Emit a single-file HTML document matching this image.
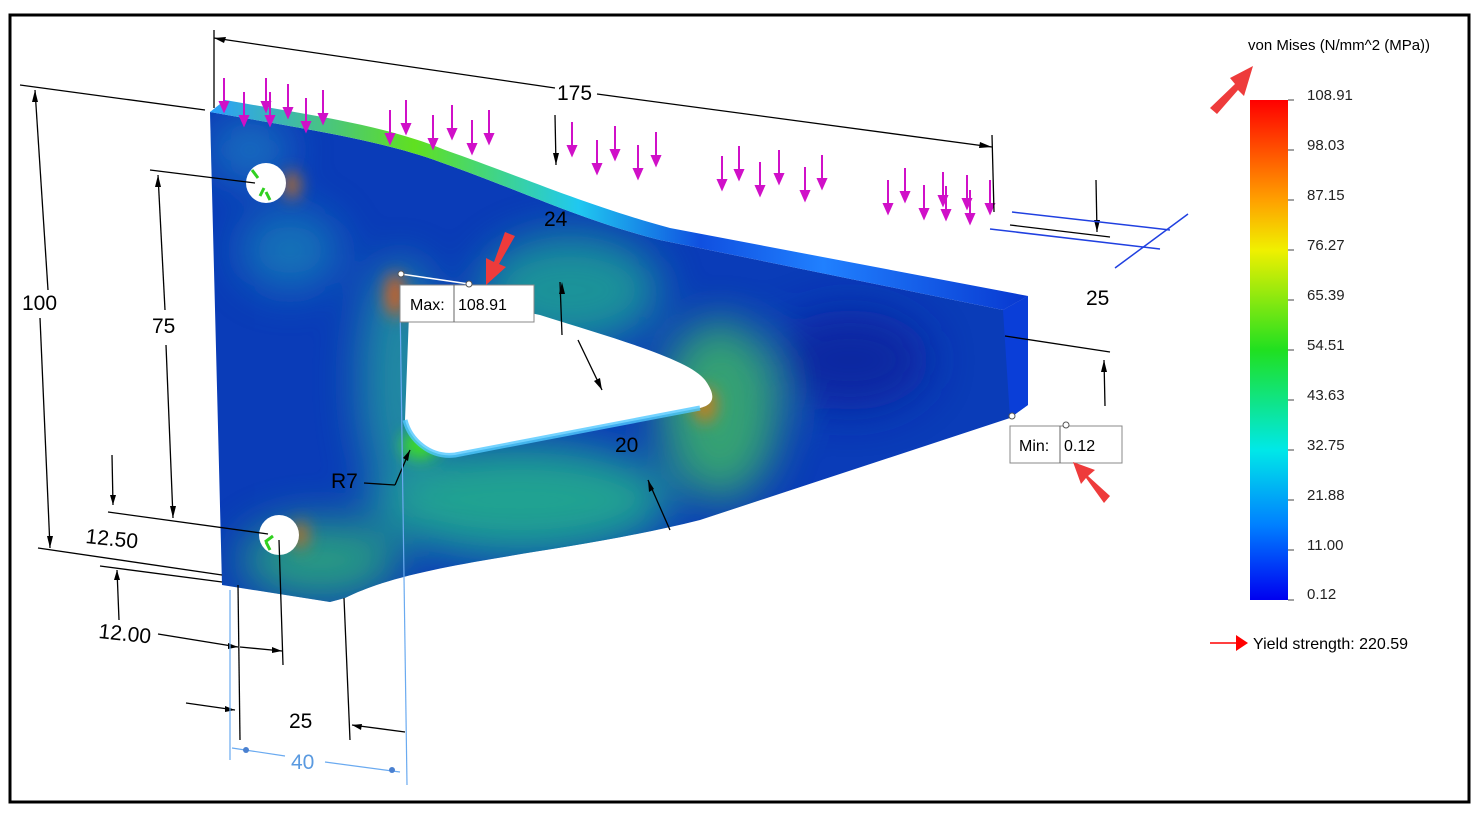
<!DOCTYPE html>
<html><head><meta charset="utf-8"><style>
html,body{margin:0;padding:0;background:#fff;}
svg{display:block;font-family:"Liberation Sans",sans-serif;}
</style></head><body>
<svg width="1478" height="814" viewBox="0 0 1478 814" xmlns="http://www.w3.org/2000/svg">
<defs>
<linearGradient id="cb" x1="0" y1="0" x2="0" y2="1">
<stop offset="0" stop-color="#ff0000"/><stop offset="0.2" stop-color="#ffa000"/><stop offset="0.3" stop-color="#f0f000"/>
<stop offset="0.5" stop-color="#20e020"/><stop offset="0.7" stop-color="#00e8e8"/><stop offset="0.85" stop-color="#0080ff"/><stop offset="1" stop-color="#0000f0"/>
</linearGradient>
<linearGradient id="top" x1="0" y1="0" x2="1" y2="0">
<stop offset="0" stop-color="#2aa0ff"/><stop offset="0.25" stop-color="#60e020"/><stop offset="0.45" stop-color="#20c8f0"/><stop offset="0.6" stop-color="#1050e0"/><stop offset="0.75" stop-color="#2080ff"/><stop offset="1" stop-color="#0838d0"/>
</linearGradient>
<filter id="bl" x="-50%" y="-50%" width="200%" height="200%"><feGaussianBlur stdDeviation="22"/></filter>
<filter id="bs" x="-50%" y="-50%" width="200%" height="200%"><feGaussianBlur stdDeviation="8"/></filter>
<clipPath id="pc"><path d="M210,112 C300,128 380,140 440,162 C520,190 580,220 660,240 L1003,310 L1028,296 L1028,405 L1010,418 L700,520 C560,555 420,560 345,598 L330,602 L222,585 Z"/></clipPath>
<g id="ar"><line x1="0" y1="0" x2="0" y2="28"/><path d="M-4,24 L4,24 L0,33 Z"/></g>
</defs>
<rect x="10" y="15" width="1459" height="787" fill="none" stroke="#000" stroke-width="3"/>

<!-- part -->
<g clip-path="url(#pc)">
<rect x="200" y="90" width="840" height="530" fill="#0a3cb8"/>
<g filter="url(#bl)" opacity="0.95">
<ellipse cx="520" cy="500" rx="150" ry="55" fill="#20a890"/>
<ellipse cx="570" cy="290" rx="90" ry="55" fill="#1a9898"/>
<ellipse cx="720" cy="410" rx="60" ry="90" fill="#38a870"/>
<ellipse cx="400" cy="380" rx="40" ry="120" fill="#2090a0"/>
<ellipse cx="320" cy="560" rx="80" ry="40" fill="#2aa080"/>
<ellipse cx="290" cy="250" rx="50" ry="40" fill="#1878b8"/>
<ellipse cx="250" cy="150" rx="40" ry="30" fill="#1a78c0"/>
<ellipse cx="850" cy="360" rx="80" ry="50" fill="#0828a0"/>
</g>
<g filter="url(#bs)">
<ellipse cx="395" cy="295" rx="10" ry="22" fill="#d06020"/>
<ellipse cx="705" cy="405" rx="12" ry="18" fill="#c08020"/>
<ellipse cx="420" cy="445" rx="18" ry="14" fill="#40e020"/>
<ellipse cx="292" cy="185" rx="8" ry="14" fill="#c07020"/>
<ellipse cx="300" cy="535" rx="8" ry="14" fill="#c07020"/>
</g>
<path d="M1003,310 L1028,296 L1028,405 L1010,418 Z" fill="#0a3ed8"/>
</g>
<path d="M210,112 L225,100 C310,115 385,125 445,150 C525,178 585,205 670,228 L1028,296 L1003,310 L660,240 C580,220 520,190 440,162 C380,140 300,128 210,112 Z" fill="url(#top)"/>
<!-- triangular cutout -->
<path d="M410,288 L540,315 C620,340 690,360 705,380 C718,398 712,405 700,408 L455,455 C430,458 410,440 405,420 Z" fill="#fff"/>
<path d="M405,420 C410,440 430,458 455,455 L700,408" fill="none" stroke="#50c8ff" stroke-width="5" opacity="0.8"/>
<circle cx="266" cy="183" r="20" fill="#fff"/><circle cx="279" cy="535" r="20" fill="#fff"/>
<path d="M252,170 l6,8 M260,196 l4,-8 M270,200 l-4,-8 M265,542 l8,-6 M270,550 l-4,-8" stroke="#30d020" stroke-width="3"/>

<!-- load arrows -->
<g stroke="#d010c8" stroke-width="2" fill="#d010c8">
<use href="#ar" x="224" y="78"/><use href="#ar" x="244" y="92"/><use href="#ar" x="266" y="78"/><use href="#ar" x="270" y="92"/><use href="#ar" x="288" y="84"/><use href="#ar" x="306" y="98"/><use href="#ar" x="323" y="90"/>
<use href="#ar" x="390" y="110"/><use href="#ar" x="406" y="100"/><use href="#ar" x="433" y="115"/><use href="#ar" x="452" y="105"/><use href="#ar" x="472" y="120"/><use href="#ar" x="489" y="110"/>
<use href="#ar" x="572" y="122"/><use href="#ar" x="597" y="140"/><use href="#ar" x="615" y="126"/><use href="#ar" x="638" y="145"/><use href="#ar" x="656" y="132"/>
<use href="#ar" x="722" y="156"/><use href="#ar" x="739" y="146"/><use href="#ar" x="760" y="162"/><use href="#ar" x="779" y="150"/><use href="#ar" x="805" y="167"/><use href="#ar" x="822" y="155"/>
<use href="#ar" x="888" y="180"/><use href="#ar" x="905" y="168"/><use href="#ar" x="924" y="185"/><use href="#ar" x="943" y="172"/><use href="#ar" x="946" y="186"/><use href="#ar" x="967" y="175"/><use href="#ar" x="970" y="190"/><use href="#ar" x="990" y="180"/>
</g>

<!-- dimension lines -->
<g stroke="#000" stroke-width="1.3" fill="none">
<line x1="214" y1="30" x2="214" y2="108"/>
<line x1="214" y1="38" x2="555" y2="88"/><line x1="597" y1="94" x2="992" y2="147"/>
<line x1="992" y1="135" x2="994" y2="212"/>
<line x1="20" y1="85" x2="205" y2="110"/>
<line x1="35" y1="90" x2="48" y2="290"/><line x1="40" y1="318" x2="50" y2="548"/>
<line x1="38" y1="548" x2="222" y2="575"/>
<line x1="150" y1="170" x2="255" y2="183"/>
<line x1="158" y1="175" x2="165" y2="310"/><line x1="166" y1="345" x2="173" y2="518"/>
<line x1="108" y1="512" x2="268" y2="534"/>
<line x1="100" y1="566" x2="222" y2="582"/>
<line x1="112" y1="455" x2="113" y2="505"/><line x1="117" y1="570" x2="119" y2="620"/>
<line x1="158" y1="634" x2="238" y2="647"/><line x1="240" y1="647" x2="282" y2="651"/>
<line x1="238" y1="585" x2="240" y2="740"/><line x1="279" y1="540" x2="283" y2="665"/>
<line x1="186" y1="703" x2="235" y2="710"/><line x1="352" y1="725" x2="405" y2="732"/>
<line x1="344" y1="598" x2="350" y2="740"/>
<line x1="560" y1="282" x2="562" y2="335"/><line x1="578" y1="340" x2="602" y2="390"/>
<line x1="648" y1="480" x2="670" y2="530"/>
<line x1="364" y1="483" x2="395" y2="485"/><line x1="395" y1="485" x2="410" y2="450"/>
<line x1="555" y1="115" x2="556" y2="165"/>
<line x1="1005" y1="336" x2="1110" y2="352"/><line x1="1104" y1="360" x2="1105" y2="406"/>
<line x1="1096" y1="180" x2="1097" y2="232"/>
<line x1="1010" y1="225" x2="1110" y2="237"/>
</g>
<g fill="#000">
<path d="M214,38 l12,-1 l-2,6 Z"/><path d="M992,147 l-12,-5 l-1,6 Z"/>
<path d="M35,90 l-3,12 l6,0 Z"/><path d="M50,548 l-3,-12 l6,0 Z"/>
<path d="M158,175 l-3,12 l6,0 Z"/><path d="M173,518 l-3,-12 l6,0 Z"/>
<path d="M113,505 l-3,-10 l6,0 Z"/><path d="M117,570 l-3,10 l6,0 Z"/>
<path d="M238,647 l-10,-4 l0,6 Z"/><path d="M282,651 l-10,-4 l0,6 Z"/>
<path d="M235,710 l-10,-4 l0,6 Z"/><path d="M352,725 l10,-1 l-1,6 Z"/>
<path d="M562,282 l-3,12 l6,0 Z"/><path d="M602,390 l-2,-12 l-6,3 Z"/><path d="M648,480 l1,12 l5,-3 Z"/>
<path d="M410,450 l-7,8 l5,3 Z"/><path d="M556,165 l-3,-12 l6,0 Z"/>
<path d="M1104,360 l-3,12 l6,0 Z"/><path d="M1097,232 l-3,-12 l6,0 Z"/>
</g>
<g stroke="#2040e0" stroke-width="1.5" fill="none">
<line x1="1012" y1="212" x2="1170" y2="230"/><line x1="990" y1="229" x2="1160" y2="249"/>
<line x1="1115" y1="268" x2="1188" y2="214"/>
</g>
<g stroke="#6aaaf0" stroke-width="1.2" fill="none">
<line x1="230" y1="590" x2="230" y2="760"/><line x1="400" y1="300" x2="407" y2="785"/>
<line x1="232" y1="748" x2="285" y2="756"/><line x1="325" y1="762" x2="400" y2="772"/>
</g>
<circle cx="246" cy="750" r="3" fill="#4a80d0"/><circle cx="392" cy="770" r="3" fill="#4a80d0"/>

<g font-size="21" fill="#000">
<text x="557" y="100">175</text>
<text x="22" y="310">100</text>
<text x="152" y="333">75</text>
<text x="85" y="543" transform="rotate(6 85 543)">12.50</text>
<text x="98" y="638" transform="rotate(6 98 638)">12.00</text>
<text x="289" y="728">25</text>
<text x="1086" y="305">25</text>
<text x="544" y="226">24</text>
<text x="615" y="452">20</text>
<text x="331" y="488">R7</text>
<text x="291" y="769" fill="#5a9ae0">40</text>
</g>

<!-- Max / Min boxes -->
<rect x="400" y="285" width="134" height="37" fill="#fff" stroke="#888"/>
<line x1="454" y1="285" x2="454" y2="322" stroke="#666"/>
<text x="410" y="310" font-size="16">Max:</text><text x="458" y="310" font-size="16">108.91</text>
<line x1="401" y1="274" x2="469" y2="284" stroke="#fff" stroke-width="1.5"/>
<circle cx="401" cy="274" r="3" fill="#fff" stroke="#555"/><circle cx="469" cy="284" r="3" fill="#fff" stroke="#555"/>
<rect x="1010" y="426" width="112" height="37" fill="#fff" stroke="#888"/>
<line x1="1060" y1="426" x2="1060" y2="463" stroke="#666"/>
<text x="1019" y="451" font-size="16">Min:</text><text x="1064" y="451" font-size="16">0.12</text>
<circle cx="1012" cy="416" r="3" fill="#fff" stroke="#555"/><circle cx="1066" cy="425" r="3" fill="#fff" stroke="#555"/>

<!-- red pointer arrows -->
<g fill="#ee3b3b">
<path d="M515,236 L505,232 L494,262 L486,258 L486,285 L506,267 L499,264 Z"/>
<path d="M1104,503 L1110,496 L1088,476 L1095,470 L1073,462 L1081,484 L1086,478 Z"/>
<path d="M1210,108 L1217,114 L1238,90 L1244,96 L1253,66 L1230,78 L1235,84 Z"/>
</g>

<!-- colorbar -->
<text x="1248" y="50" font-size="15">von Mises (N/mm^2 (MPa))</text>
<rect x="1250" y="100" width="38" height="500" fill="url(#cb)"/>
<g font-size="15" fill="#222">
<text x="1307" y="100">108.91</text><text x="1307" y="150">98.03</text><text x="1307" y="200">87.15</text><text x="1307" y="250">76.27</text><text x="1307" y="300">65.39</text><text x="1307" y="350">54.51</text><text x="1307" y="400">43.63</text><text x="1307" y="450">32.75</text><text x="1307" y="500">21.88</text><text x="1307" y="550">11.00</text><text x="1307" y="599">0.12</text>
</g>
<g stroke="#444"><line x1="1288" y1="100" x2="1294" y2="100"/><line x1="1288" y1="150" x2="1294" y2="150"/><line x1="1288" y1="200" x2="1294" y2="200"/><line x1="1288" y1="250" x2="1294" y2="250"/><line x1="1288" y1="300" x2="1294" y2="300"/><line x1="1288" y1="350" x2="1294" y2="350"/><line x1="1288" y1="400" x2="1294" y2="400"/><line x1="1288" y1="450" x2="1294" y2="450"/><line x1="1288" y1="500" x2="1294" y2="500"/><line x1="1288" y1="550" x2="1294" y2="550"/><line x1="1288" y1="600" x2="1294" y2="600"/></g>
<line x1="1210" y1="643" x2="1236" y2="643" stroke="#f00" stroke-width="1.5"/>
<path d="M1236,635 L1248,643 L1236,651 Z" fill="#f00"/>
<text x="1253" y="649" font-size="16">Yield strength: 220.59</text>
</svg>
</body></html>
